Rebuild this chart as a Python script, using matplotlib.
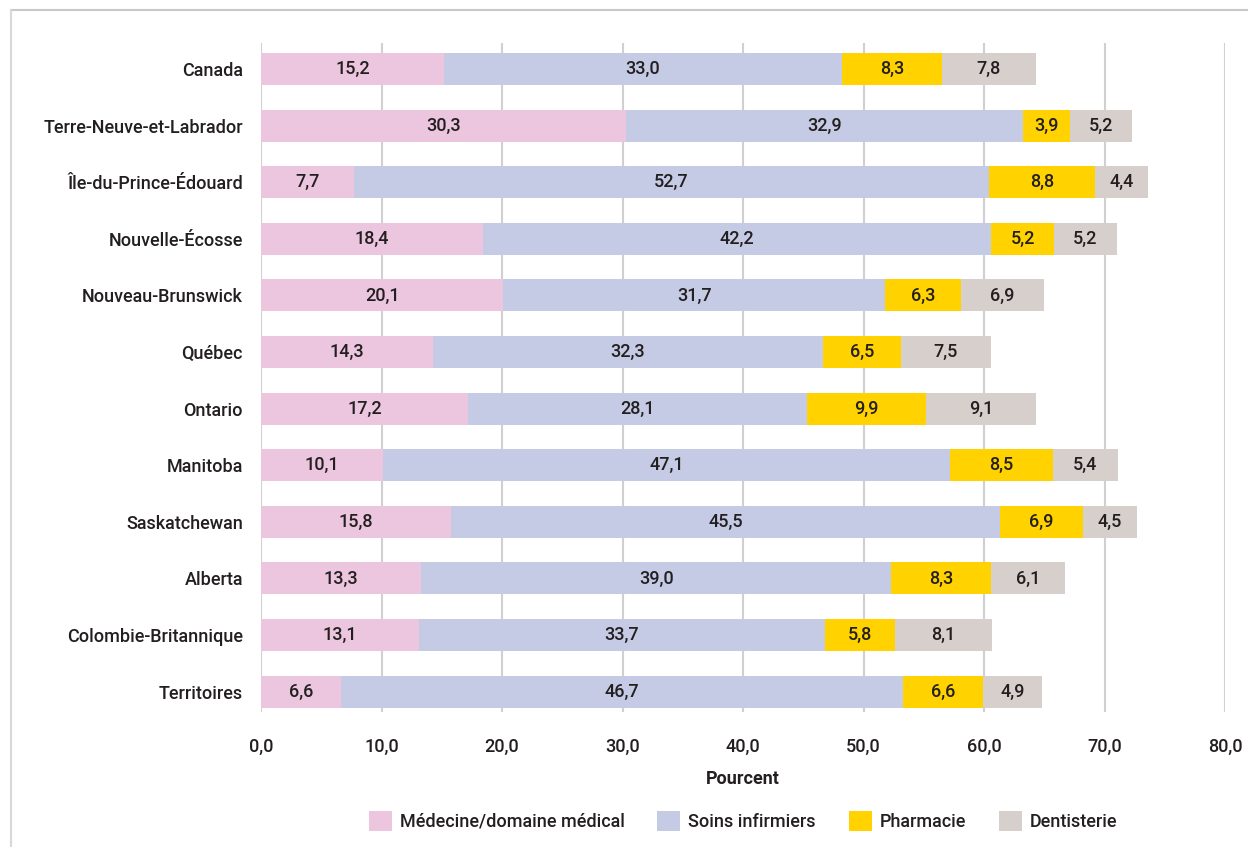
import matplotlib.pyplot as plt
import numpy as np
from matplotlib.lines import Line2D
from matplotlib.patches import Patch

plt.rcParams['font.family'] = ['Roboto', 'DejaVu Sans']
plt.rcParams['font.weight'] = 'medium'

regions = ["Canada", "Terre-Neuve-et-Labrador", "Île-du-Prince-Édouard",
           "Nouvelle-Écosse", "Nouveau-Brunswick", "Québec", "Ontario",
           "Manitoba", "Saskatchewan", "Alberta", "Colombie-Britannique",
           "Territoires"]
series_names = ["Médecine/domaine médical", "Soins infirmiers", "Pharmacie", "Dentisterie"]
medecine = [15.2, 30.3, 7.7, 18.4, 20.1, 14.3, 17.2, 10.1, 15.8, 13.3, 13.1, 6.6]
soins = [33.0, 32.9, 52.7, 42.2, 31.7, 32.3, 28.1, 47.1, 45.5, 39.0, 33.7, 46.7]
pharmacie = [8.3, 3.9, 8.8, 5.2, 6.3, 6.5, 9.9, 8.5, 6.9, 8.3, 5.8, 6.6]
dentisterie = [7.8, 5.2, 4.4, 5.2, 6.9, 7.5, 9.1, 5.4, 4.5, 6.1, 8.1, 4.9]
x_ticks = [0, 10, 20, 30, 40, 50, 60, 70, 80]

colors = ["#ecc6de", "#c5cbe4", "#ffd200", "#d7cfcc"]
text_color = "#231f20"
grid_color = "#d0d0d0"
fs = 13

fig = plt.figure(figsize=(12.48, 8.47), dpi=100)
ax = fig.add_axes([261 / 1248, 1 - 712 / 847, (1225 - 261) / 1248, (712 - 43) / 847])

y = np.arange(len(regions))
left = np.zeros(len(regions))
for name, vals, col in zip(series_names, [medecine, soins, pharmacie, dentisterie], colors):
    vals = np.array(vals)
    ax.barh(y, vals, left=left, height=0.565, color=col, zorder=2)
    for yi, l, v in zip(y, left, vals):
        ax.text(l + v / 2, yi, f"{v:.1f}".replace(".", ","), ha='center', va='center',
                fontsize=fs, color=text_color, zorder=3)
    left += vals

ax.set_xlim(0, 80)
ax.set_ylim(11.36, -0.46)
ax.set_yticks(y)
ax.set_yticklabels(regions, fontsize=fs, color=text_color)
ax.set_xticks(x_ticks)
ax.set_xticklabels([f"{t:.1f}".replace(".", ",") for t in x_ticks], fontsize=fs, color=text_color)
ax.tick_params(axis='y', length=0, pad=13)
ax.tick_params(axis='x', length=0, pad=19)
ax.xaxis.grid(True, color=grid_color, linewidth=1.5, zorder=0)
ax.set_axisbelow(True)
for s in ax.spines.values():
    s.set_visible(False)

ax.set_xlabel("Pourcent", fontsize=fs, fontweight='bold', color=text_color, labelpad=10)

handles = [Patch(facecolor=c, edgecolor='none') for c in colors]
fig.legend(handles, series_names, loc='center', bbox_to_anchor=(743 / 1248, 1 - 821 / 847),
           ncol=4, frameon=False, fontsize=fs, handlelength=1.28, handleheight=1.28,
           columnspacing=1.8, handletextpad=0.45, labelcolor=text_color)

# light frame on top and left
fig.add_artist(Line2D([11 / 1248, 1], [1 - 10 / 847] * 2, color="#c8c8c8", linewidth=1.5,
                      transform=fig.transFigure))
fig.add_artist(Line2D([11 / 1248] * 2, [0, 1 - 10 / 847], color="#d8d8d8", linewidth=1.5,
                      transform=fig.transFigure))

fig.savefig("out.png", dpi=100)
